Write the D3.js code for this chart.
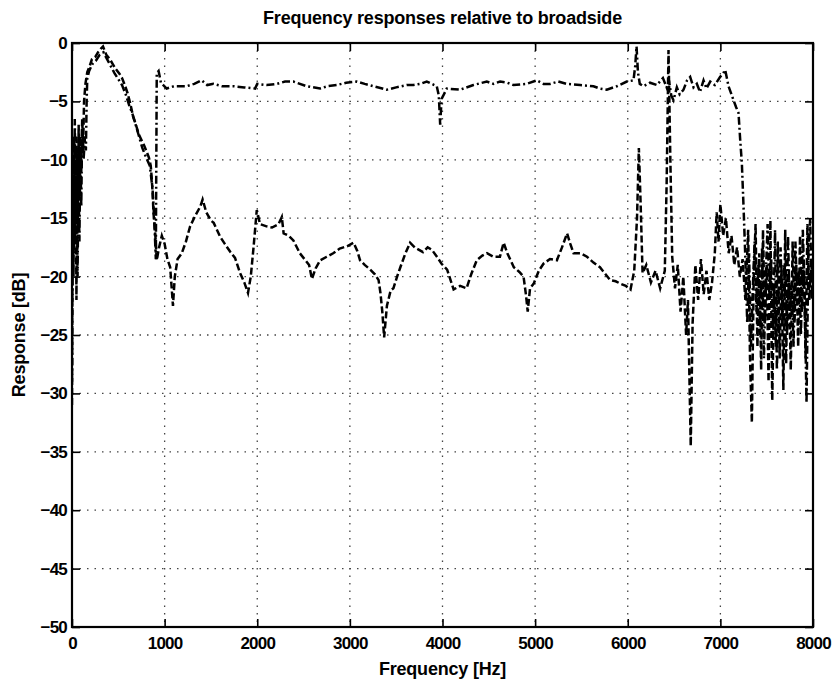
<!DOCTYPE html>
<html>
<head>
<meta charset="utf-8">
<script src="https://cdn.jsdelivr.net/npm/d3@7"></script>
<style>
  body { margin: 0; background: #fff; }
  svg { display: block; font-family: "Liberation Sans", Arial, sans-serif; }
  .tick text { font-weight: bold; font-size: 17px; letter-spacing: -0.8px; fill: #000; }
  .tick line { stroke: #000; stroke-width: 1.6; }
  .domain { display: none; }
</style>
</head>
<body>
<div id="chart"></div>
<script>
// frequency ticks and response ticks
const freqTicks = [0, 1000, 2000, 3000, 4000, 5000, 6000, 7000, 8000];
const respTicks = [0, -5, -10, -15, -20, -25, -30, -35, -40, -45, -50];

// [frequency Hz, response dB], dashed curve
const dashedSeries = [
  [0,-31],[8,-12],[16,-20],[24,-8],[32,-17],[40,-10],[48,-22],[56,-9],[64,-16],[72,-7],
  [80,-13],[90,-8],[100,-11],[110,-6.5],[120,-9],[130,-5],[145,-3.5],[165,-2.5],[190,-2],
  [215,-1.4],[250,-1.2],[280,-0.8],[310,-0.5],[335,-0.3],[370,-1],[410,-1.4],[440,-1.8],
  [470,-2.2],[510,-2.6],[540,-3],[570,-3.6],[600,-4.3],[630,-5.2],[660,-6.3],[690,-7],
  [720,-7.8],[750,-8.3],[780,-8.8],[810,-9.4],[830,-9.8],[850,-10.5],[860,-11.5],[870,-12.8],
  [880,-14.6],[890,-15.5],[900,-16.5],[915,-18.6],[940,-17.5],[970,-16.5],[1000,-17.2],
  [1030,-18.5],[1060,-19.2],[1090,-22.5],[1110,-20],[1140,-18.5],[1185,-18],[1230,-17],
  [1275,-15.7],[1330,-14.8],[1385,-14],[1410,-13.4],[1450,-14.5],[1500,-15.2],[1530,-15.4],
  [1600,-16.6],[1650,-17.2],[1710,-17.9],[1760,-18.4],[1815,-19.7],[1860,-20.5],[1900,-21.4],
  [1930,-20],[1960,-17.5],[1995,-14.3],[2030,-15.5],[2100,-15.7],[2160,-15.8],[2230,-15.5],
  [2265,-14.9],[2285,-16.3],[2340,-16.5],[2390,-16.9],[2460,-18],[2520,-18.6],[2560,-19],
  [2590,-20.2],[2630,-19.3],[2680,-18.6],[2750,-18.3],[2820,-18],[2890,-17.6],[2970,-17.4],
  [3040,-17.1],[3080,-17.8],[3110,-18.6],[3160,-19],[3220,-19.4],[3270,-19.8],[3310,-20.3],
  [3330,-21.4],[3350,-23],[3370,-25.2],[3400,-22.5],[3440,-21.2],[3470,-21],[3510,-20],
  [3545,-19.2],[3600,-18],[3650,-17.1],[3700,-17.5],[3790,-17.9],[3840,-17.5],[3885,-17.7],
  [3940,-18.3],[3990,-18.9],[4050,-19.4],[4120,-21.1],[4190,-20.8],[4260,-21],[4310,-19.8],
  [4370,-18.6],[4430,-18.2],[4480,-18],[4550,-18.3],[4620,-18.3],[4660,-17.1],[4700,-18],
  [4770,-19.2],[4830,-19.6],[4875,-20],[4900,-21.5],[4920,-23],[4945,-21],[4985,-20.6],
  [5040,-19.5],[5090,-18.9],[5160,-18.5],[5235,-18.6],[5290,-17.5],[5345,-16.3],[5380,-17.2],
  [5415,-18],[5490,-18],[5560,-18.3],[5630,-18.8],[5700,-19.2],[5760,-19.8],[5810,-20.3],
  [5870,-20.4],[5920,-20.6],[5980,-20.8],[6030,-21.1],[6070,-19.5],[6100,-15],[6120,-9],
  [6140,-14],[6160,-19.7],[6200,-19],[6250,-20.5],[6300,-19.5],[6350,-21],[6400,-19.5],
  [6420,-12],[6440,-0.6],[6460,-10],[6480,-18.3],[6510,-21],[6540,-19],[6570,-23],[6600,-20],
  [6630,-25],[6650,-22],[6680,-34.5],[6700,-24],[6730,-19],[6760,-22],[6790,-18.5],[6820,-21.5],
  [6850,-19.5],[6880,-22],[6910,-20.5],[6940,-18],[6960,-14.5],[6980,-17],[7000,-13.8],
  [7030,-16.5],[7060,-15],[7090,-18],[7120,-16.5],[7150,-19],[7180,-17.5],[7210,-20],
  [7240,-18.5],[7270,-22],[7300,-16],[7320,-27],[7340,-32.5],[7360,-20],[7380,-15.5],
  [7400,-26],[7420,-18],[7440,-28],[7460,-16],[7480,-24],[7500,-19],[7520,-29],[7540,-15.2],
  [7560,-30.6],[7580,-21],[7600,-26],[7620,-17],[7640,-27],[7660,-19],[7680,-29.7],[7700,-16],
  [7720,-25],[7740,-20],[7760,-28],[7780,-17],[7800,-24],[7820,-19],[7840,-26],[7860,-16.5],
  [7880,-23],[7900,-18.5],[7920,-27],[7940,-15.5],[7960,-22],[7980,-19],[8000,-20]
];

// dash-dot curve
const dashDotSeries = [
  [0,-29],[10,-10],[20,-18],[30,-6.5],[40,-15],[50,-8],[60,-20],[70,-11],[80,-17],[90,-9],
  [100,-14],[110,-7],[125,-10],[140,-8],[150,-9.2],[158,-5],[165,-3],[185,-2.4],[220,-1.8],
  [260,-1.5],[300,-1],[340,-0.8],[380,-1.4],[420,-2],[460,-2.6],[500,-3.1],[540,-3.6],
  [580,-4.4],[620,-5.4],[650,-6],[680,-6.8],[720,-7.9],[760,-9],[800,-9.8],[840,-10.5],
  [870,-12.5],[890,-15.5],[905,-18.5],[915,-2.6],[935,-2.4],[960,-3.4],[1022,-3.9],[1100,-3.7],
  [1238,-3.7],[1320,-3.5],[1400,-3.2],[1460,-3.6],[1526,-3.5],[1620,-3.7],[1742,-3.7],
  [1860,-3.8],[1976,-3.9],[2000,-3.5],[2100,-3.6],[2210,-3.5],[2300,-3.3],[2390,-3.3],
  [2534,-3.7],[2678,-3.9],[2760,-3.7],[2858,-3.6],[2960,-3.4],[3074,-3.3],[3160,-3.5],
  [3254,-3.7],[3398,-4],[3500,-3.8],[3614,-3.6],[3686,-3.6],[3760,-3.5],[3830,-3.3],
  [3938,-3.7],[3960,-4.5],[3975,-7],[3990,-4.8],[4046,-3.9],[4190,-4],[4334,-3.6],[4478,-3.3],
  [4550,-3.5],[4622,-3.3],[4700,-3.4],[4766,-3.6],[4910,-3.5],[5018,-3.2],[5090,-3.5],
  [5162,-3.5],[5250,-3.3],[5342,-3.5],[5486,-3.6],[5630,-3.7],[5700,-3.9],[5774,-4],
  [5882,-3.7],[5990,-3.3],[6062,-3.2],[6080,-2],[6095,-0.3],[6110,-2.5],[6130,-3.5],
  [6170,-3.7],[6240,-3.4],[6314,-3.6],[6380,-3],[6420,-3.8],[6445,-3.2],[6470,-4.5],
  [6494,-4.9],[6530,-3.8],[6560,-4.4],[6602,-4],[6640,-3.2],[6674,-2.9],[6710,-3.8],
  [6746,-3.5],[6780,-4.2],[6818,-3.2],[6850,-3.9],[6890,-3.3],[6940,-3.6],[6998,-2.9],
  [7030,-2.6],[7052,-2.3],[7070,-3],[7088,-3.7],[7120,-4.4],[7142,-4.9],[7170,-5.5],
  [7196,-6],[7214,-8.3],[7232,-10.3],[7250,-14],[7270,-18.5],[7290,-24],[7310,-18],
  [7330,-26],[7350,-21],[7370,-17],[7390,-23],[7410,-19],[7430,-25],[7450,-17.5],[7470,-27],
  [7490,-20],[7510,-15.5],[7530,-22],[7550,-18.5],[7570,-25],[7590,-16],[7610,-28],[7630,-21],
  [7650,-17.5],[7670,-24],[7690,-19],[7710,-27.5],[7730,-16.5],[7750,-23],[7770,-20.5],
  [7790,-26],[7810,-17],[7830,-22],[7850,-19.5],[7870,-25],[7890,-16],[7910,-21.5],
  [7930,-30.8],[7950,-18],[7970,-15],[7985,-22],[8000,-19]
];

const width = 837, height = 683;
const margin = { top: 43, right: 24, bottom: 56, left: 72 };
const plotW = width - margin.left - margin.right;
const plotH = height - margin.top - margin.bottom;

const x = d3.scaleLinear().domain([0, 8000]).range([margin.left, margin.left + plotW]);
const y = d3.scaleLinear().domain([-50, 0]).range([margin.top + plotH, margin.top]);

const svg = d3.select("#chart").append("svg")
  .attr("width", width)
  .attr("height", height);

svg.append("defs").append("clipPath")
  .attr("id", "plot-clip")
  .append("rect")
  .attr("x", margin.left)
  .attr("y", margin.top)
  .attr("width", plotW)
  .attr("height", plotH);

// dotted grid
const grid = svg.append("g").attr("class", "grid")
  .attr("stroke", "#444")
  .attr("stroke-width", 1.3)
  .attr("stroke-dasharray", "1.5,6");

grid.selectAll("line.vx")
  .data(freqTicks.slice(1, -1))
  .enter().append("line")
  .attr("class", "vx")
  .attr("x1", d => x(d)).attr("x2", d => x(d))
  .attr("y1", margin.top).attr("y2", margin.top + plotH);

grid.selectAll("line.hy")
  .data(respTicks.slice(1, -1))
  .enter().append("line")
  .attr("class", "hy")
  .attr("y1", d => y(d)).attr("y2", d => y(d))
  .attr("x1", margin.left).attr("x2", margin.left + plotW);

// curves
const line = d3.line()
  .x(d => x(d[0]))
  .y(d => y(d[1]));

const curves = svg.append("g").attr("clip-path", "url(#plot-clip)");

curves.append("path")
  .datum(dashDotSeries)
  .attr("fill", "none")
  .attr("stroke", "#000")
  .attr("stroke-width", 2.5)
  .attr("stroke-dasharray", "8,3,2,3")
  .attr("d", line);

curves.append("path")
  .datum(dashedSeries)
  .attr("fill", "none")
  .attr("stroke", "#000")
  .attr("stroke-width", 2.5)
  .attr("stroke-dasharray", "7,3")
  .attr("d", line);

// axes, ticks pointing inward like matlab
svg.append("g")
  .attr("transform", "translate(0," + (margin.top + plotH) + ")")
  .call(d3.axisBottom(x).tickValues(freqTicks).tickSizeInner(-8).tickSizeOuter(0).tickPadding(10).tickFormat(d3.format("d")));

svg.append("g")
  .attr("transform", "translate(0," + margin.top + ")")
  .call(d3.axisTop(x).tickValues(freqTicks).tickSizeInner(-8).tickSizeOuter(0).tickFormat(""));

svg.append("g")
  .attr("transform", "translate(" + margin.left + ",0)")
  .call(d3.axisLeft(y).tickValues(respTicks).tickSizeInner(-8).tickSizeOuter(0).tickPadding(5));

svg.append("g")
  .attr("transform", "translate(" + (margin.left + plotW) + ",0)")
  .call(d3.axisRight(y).tickValues(respTicks).tickSizeInner(-8).tickSizeOuter(0).tickFormat(""));

// box
svg.append("rect")
  .attr("x", margin.left)
  .attr("y", margin.top)
  .attr("width", plotW)
  .attr("height", plotH)
  .attr("fill", "none")
  .attr("stroke", "#000")
  .attr("stroke-width", 2.2);

// labels
svg.append("text")
  .attr("x", margin.left + plotW / 2)
  .attr("y", 24)
  .attr("text-anchor", "middle")
  .attr("font-weight", "bold")
  .attr("font-size", "18px")
  .attr("letter-spacing", "-0.2px")
  .text("Frequency responses relative to broadside");

svg.append("text")
  .attr("x", margin.left + plotW / 2)
  .attr("y", 675)
  .attr("text-anchor", "middle")
  .attr("font-weight", "bold")
  .attr("font-size", "18px")
  .attr("letter-spacing", "-0.2px")
  .text("Frequency [Hz]");

svg.append("text")
  .attr("transform", "translate(25," + (margin.top + plotH / 2) + ") rotate(-90)")
  .attr("text-anchor", "middle")
  .attr("font-weight", "bold")
  .attr("font-size", "18px")
  .attr("letter-spacing", "-0.2px")
  .text("Response [dB]");
</script>
</body>
</html>
